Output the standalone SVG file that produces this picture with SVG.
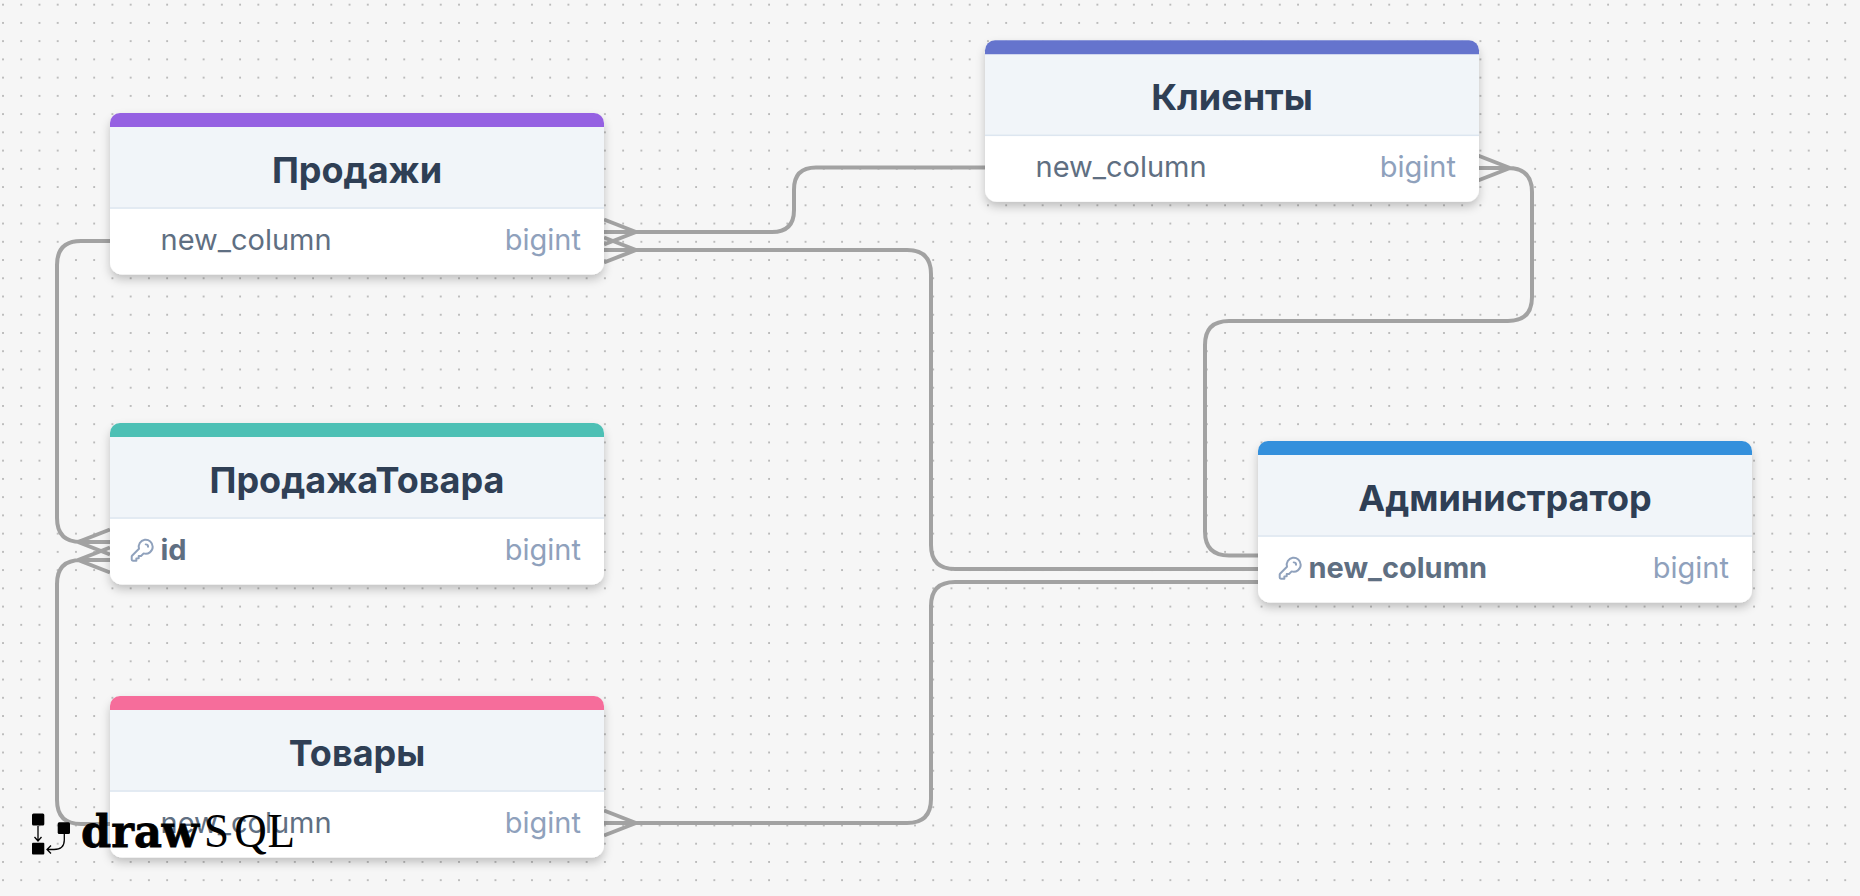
<svg xmlns="http://www.w3.org/2000/svg" width="1860" height="896" viewBox="0 0 1860 896">
<style>
.c{fill:none;stroke:#a2a2a2;stroke-width:4;stroke-linejoin:round}
.card{fill:#fff;filter:url(#sh)}
.head{fill:#f1f5f9}
.rule{fill:#dde6f0}
.t{font:700 36px Inter,"Noto Sans",sans-serif;fill:#2f3f55;text-anchor:middle}
.r{font:400 29px Inter,"Noto Sans",sans-serif;fill:#5f6f82}
.pk{font-weight:700}
.ty{font:400 29px Inter,"Noto Sans",sans-serif;fill:#8fa1bc;text-anchor:end}
.key{fill:none;stroke:#8fa1bc;stroke-width:1.7;stroke-linecap:round;stroke-linejoin:round}
</style>
<defs>
<pattern id="dots" x="2" y="3.700" width="18.24" height="18.24" patternUnits="userSpaceOnUse"><circle cx="1" cy="1" r="1" fill="#ababab"/></pattern>
<filter id="sh" x="-10%" y="-10%" width="120%" height="130%"><feDropShadow dx="0" dy="5" stdDeviation="5" flood-color="#000" flood-opacity=".22"/></filter>
<path id="bar" d="M0 14V10A10 10 0 0 1 10 0H484A10 10 0 0 1 494 10V14Z"/>
<path id="k" d="M15 7a2 2 0 012 2m4 0a6 6 0 01-7.743 5.743L11 17H9v2H7v2H4a1 1 0 01-1-1v-2.586a1 1 0 01.293-.707l5.964-5.964A6 6 0 1121 9z"/>
</defs>
<rect width="1860" height="896" fill="#f6f6f6"/>
<rect width="1860" height="896" fill="url(#dots)"/>
<g id="connectors">
<path class="c" d="M985 167.500H816Q794 167.500 794 189.500V210Q794 232 772 232H604M604 219.500L636 232L604 244.500"/>
<path class="c" d="M604 250H907Q931 250 931 274V545Q931 569 955 569H1258M604 237.500L636 250L604 262.500"/>
<path class="c" d="M1258 582H955Q931 582 931 606V799Q931 823 907 823H604M604 810.500L636 823L604 835.500"/>
<path class="c" d="M1258 555.500H1229Q1205 555.500 1205 531.500V345Q1205 321 1229 321H1508Q1532 321 1532 297V192Q1532 168 1508 168H1478M1478 155.500L1510 168L1478 180.500"/>
<path class="c" d="M110 241H81Q57 241 57 265V518Q57 542 81 542H110M110 529.500L78 542L110 554.500"/>
<path class="c" d="M110 824H81Q57 824 57 800V584Q57 560 81 560H110M110 547.500L78 560L110 572.500"/>
</g>
<g id="node-prodazhi" transform="translate(110 113)">
<rect class="card" width="494" height="161.500" rx="12"/><path class="head" d="M0 14H494V95H0Z"/><rect class="rule" y="94.300" width="494" height="1.500"/><use href="#bar" fill="#9561e2"/>
<text class="t" x="247" y="70">Продажи</text><text class="r" x="50.500" y="136.500">new_column</text><text class="ty" x="471" y="136.500">bigint</text>
</g>
<g id="node-prodazha-tovara" transform="translate(110 423)">
<rect class="card" width="494" height="161.500" rx="12"/><path class="head" d="M0 14H494V95H0Z"/><rect class="rule" y="94.300" width="494" height="1.500"/><use href="#bar" fill="#4dc0b5"/>
<text class="t" x="247" y="70">ПродажаТовара</text><use href="#k" class="key" transform="translate(18.200 113.200) scale(1.167)"/><text class="r pk" x="50.500" y="136.500">id</text><text class="ty" x="471" y="136.500">bigint</text>
</g>
<g id="node-tovary" transform="translate(110 696)">
<rect class="card" width="494" height="161.500" rx="12"/><path class="head" d="M0 14H494V95H0Z"/><rect class="rule" y="94.300" width="494" height="1.500"/><use href="#bar" fill="#f66d9b"/>
<text class="t" x="247" y="70">Товары</text><text class="r" x="50.500" y="136.500">new_column</text><text class="ty" x="471" y="136.500">bigint</text>
</g>
<g id="node-klienty" transform="translate(985 40.300)">
<rect class="card" width="494" height="161.500" rx="12"/><path class="head" d="M0 14H494V95H0Z"/><rect class="rule" y="94.300" width="494" height="1.500"/><use href="#bar" fill="#6574cd"/>
<text class="t" x="247" y="70">Клиенты</text><text class="r" x="50.500" y="136.500">new_column</text><text class="ty" x="471" y="136.500">bigint</text>
</g>
<g id="node-administrator" transform="translate(1258 441)">
<rect class="card" width="494" height="161.500" rx="12"/><path class="head" d="M0 14H494V95H0Z"/><rect class="rule" y="94.300" width="494" height="1.500"/><use href="#bar" fill="#3490dc"/>
<text class="t" x="247" y="70">Администратор</text><use href="#k" class="key" transform="translate(18.200 113.200) scale(1.167)"/><text class="r pk" x="50.500" y="136.500">new_column</text><text class="ty" x="471" y="136.500">bigint</text>
</g>
<g id="logo">
<rect x="32" y="813.500" width="12.300" height="12" rx="1.500"/><rect x="32" y="842.700" width="12.300" height="11.700" rx="1"/><rect x="57.700" y="822.300" width="12.300" height="11.700" rx="1.500"/>
<path d="M38 826V841M34.500 837L38 841L41.500 837M64.300 834V840Q64.300 849.500 54 849.500H47M51 845.500L47 849.500L51 853.500" fill="none" stroke="#000" stroke-width="1.300"/>
<text x="81" y="846.700" font-family="'DejaVu Serif',serif" font-weight="700" font-size="44" textLength="118" lengthAdjust="spacingAndGlyphs" stroke="#000" stroke-width=".8">draw</text>
<text transform="translate(204 846.700) scale(.92 1)" x="0 33 69" font-family="'Liberation Serif',serif" font-size="49">SQL</text>
</g>
</svg>
